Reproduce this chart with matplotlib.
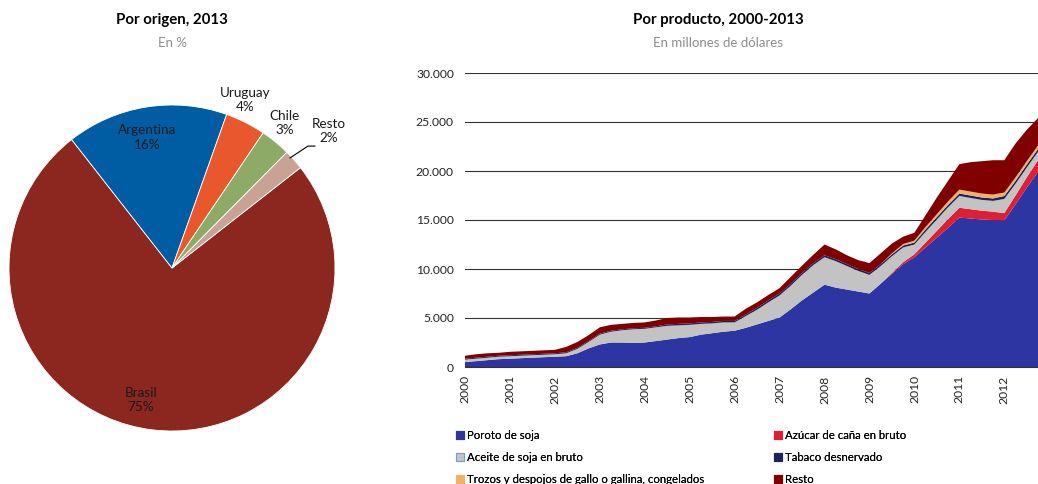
import matplotlib
matplotlib.use("Agg")
import matplotlib.pyplot as plt
from matplotlib.patches import Patch
import numpy as np

plt.rcParams['font.family'] = ['Lato', 'DejaVu Sans']

# Pie: por origen, 2013 (%)
origen = ['Brasil', 'Argentina', 'Uruguay', 'Chile', 'Resto']
origen_pct = [75, 16, 4, 3, 2]
origen_colores = ['#8B271E', '#005DA3', '#E8582C', '#8DAA66', '#C7A295']

# Area: por producto, 2000-2013 (millones de dólares), trimestral
trimestres = np.arange(2000, 2013, 0.25)
poroto = [500, 600, 700, 800, 850, 900, 950, 1000, 1050, 1100, 1400, 1900,
          2300, 2500, 2500, 2450, 2500, 2650, 2800, 2950, 3050, 3300, 3450, 3600,
          3700, 4000, 4350, 4700, 5050, 5900, 6800, 7600, 8400, 8100, 7900, 7700,
          7500, 8500, 9500, 10500, 11200, 12200, 13200, 14200, 15250, 15150, 15050, 15000,
          14950, 16600, 18300, 19900]
azucar = [0] * 38 + [100, 200, 300, 500, 700, 900, 1000, 950, 900, 850,
                     750, 900, 1050, 1200]
aceite = [250, 250, 250, 250, 250, 250, 250, 250, 250, 300, 450, 650,
          1000, 1100, 1250, 1400, 1400, 1400, 1400, 1300, 1250, 1100, 1000, 950,
          850, 1200, 1500, 1900, 2250, 2400, 2600, 2800, 2800, 2700, 2400, 2100,
          1900, 1800, 1700, 1500, 1000, 1100, 1150, 1200, 1200, 1150, 1100, 1100,
          1450, 1200, 1000, 850]
tabaco = [100] * 18 + [150] * 8 + [200] * 14 + [200, 250, 250, 250, 250, 250, 250, 250,
                                               300, 300, 300, 300]
trozos = [0] * 38 + [100, 150, 200, 250, 300, 350, 400, 400, 400, 400,
                     350, 350, 350, 350]
resto = [300, 350, 350, 300, 350, 350, 350, 350, 350, 550, 600, 600,
         650, 600, 550, 550, 550, 600, 650, 650, 600, 550, 500, 450,
         450, 600, 550, 550, 550, 700, 750, 850, 1100, 1000, 900, 900,
         1000, 1100, 1000, 750, 800, 1200, 1700, 2100, 2600, 3000, 3300, 3500,
         3300, 3450, 3200, 2800]
productos = ['Poroto de soja', 'Azúcar de caña en bruto', 'Aceite de soja en bruto',
             'Tabaco desnervado', 'Trozos y despojos de gallo o gallina, congelados', 'Resto']
prod_colores = ['#2C35A1', '#DD1E33', '#C3C3C3', '#1D2259', '#F2B06B', '#800000']
anios = list(range(2000, 2013))

fig = plt.figure(figsize=(10.38, 4.84), dpi=100)

# --- Pie ---
ax1 = fig.add_axes([9 / 1038, 1 - 431 / 484, 326 / 1038, 326 / 484])
ax1.pie(origen_pct, colors=origen_colores, startangle=38, counterclock=False,
        radius=1, wedgeprops=dict(linewidth=0.6, edgecolor='white'))
ax1.set_xlim(-1, 1)
ax1.set_ylim(-1, 1)
ax1.set_aspect('equal')
ax1.axis('off')
etiquetas = {'Argentina': (-0.15, 0.80), 'Brasil': (-0.19, -0.81),
             'Uruguay': (0.45, 1.03), 'Chile': (0.69, 0.89), 'Resto': (0.96, 0.84)}
for nombre, pct in zip(origen, origen_pct):
    x, y = etiquetas[nombre]
    ax1.text(x, y, f'{nombre}\n{pct}%', ha='center', va='center', fontsize=9.7,
             color='#1a1a1a', linespacing=1.25, clip_on=False)
ax1.plot([0.724, 0.834, 0.877], [0.675, 0.748, 0.748], color='black', lw=0.8,
         clip_on=False)

fig.text(172 / 1038, 1 - 20 / 484, 'Por origen, 2013', ha='center', va='center',
         fontsize=10.8, fontweight='bold')
fig.text(172 / 1038, 1 - 43 / 484, 'En %', ha='center', va='center',
         fontsize=9.5, color='#8c8c8c')

# --- Area ---
ax2 = fig.add_axes([465 / 1038, 1 - 367 / 484, 1 - 465 / 1038, 294 / 484])
ax2.stackplot(trimestres, poroto, azucar, aceite, tabaco, trozos, resto,
              colors=prod_colores, linewidth=0)
ax2.set_xlim(2000, 2012.75)
ax2.set_ylim(0, 30000)
ax2.set_yticks(range(0, 30001, 5000))
ax2.set_yticklabels([f'{v:,}'.replace(',', '.') for v in range(0, 30001, 5000)],
                    fontsize=8.7, color='#222222')
ax2.set_xticks(anios)
ax2.set_xticklabels([str(a) for a in anios], rotation=90, fontsize=8.7,
                    color='#222222')
ax2.tick_params(axis='both', length=0, pad=8)
ax2.tick_params(axis='x', pad=6)
for v in range(5000, 30001, 5000):
    ax2.axhline(v, color='#333333', lw=0.8, zorder=0)
for s in ['top', 'right', 'left']:
    ax2.spines[s].set_visible(False)
ax2.spines['bottom'].set_color('#333333')

fig.text(718 / 1038, 1 - 20 / 484, 'Por producto, 2000-2013', ha='center',
         va='center', fontsize=10.8, fontweight='bold')
fig.text(718 / 1038, 1 - 43 / 484, 'En millones de dólares', ha='center',
         va='center', fontsize=9.5, color='#8c8c8c')

# Legend in two columns
handles = [Patch(facecolor=c, edgecolor=('#6fa0d0' if n.startswith('Aceite') else c), lw=0.8)
           for n, c in zip(productos, prod_colores)]
col1 = [0, 2, 4]
col2 = [1, 3, 5]
for cols, x0 in [(col1, 456), (col2, 774)]:
    leg = fig.legend([handles[i] for i in cols], [productos[i] for i in cols],
                     loc='upper left', bbox_to_anchor=(x0 / 1038, 1 - 430 / 484),
                     frameon=False, fontsize=8.2, handlelength=0.7, handleheight=0.7,
                     handletextpad=0.3, labelspacing=0.98, borderaxespad=0,
                     borderpad=0)
    fig.add_artist(leg)

fig.savefig('out.png', dpi=100)
